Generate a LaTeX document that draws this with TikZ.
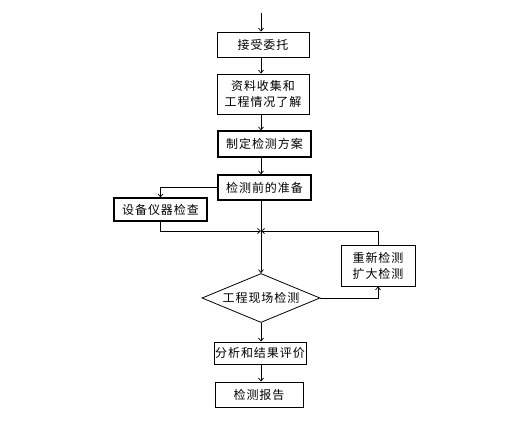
\documentclass[tikz,border=0pt]{standalone}
\usepackage{fontspec}
\newfontfamily\cjk[LetterSpace=8]{Noto Sans CJK SC}
\usetikzlibrary{shapes.geometric,arrows.meta}
\begin{document}
\begin{tikzpicture}[x=1pt,y=-1pt,
  box/.style={draw,line width=0.9pt,rectangle,inner sep=0pt,align=center,font=\cjk\fontsize{12}{16}\selectfont},
  thick box/.style={box,line width=1.3pt},
  dia/.style={draw,line width=0.8pt,diamond,aspect=2.4,inner sep=0pt,minimum width=118pt,minimum height=49pt,font=\cjk\fontsize{12}{14}\selectfont},
  flow/.style={line width=0.7pt,-{Straight Barb[length=3pt,width=5pt]}},
  plain/.style={line width=0.7pt}]
\path[use as bounding box] (0,0) rectangle (513,421);
\fill[white] (0,0) rectangle (513,421);
\coordinate (axis) at (261,0);
\coordinate (start) at (261,13);
\node[box,minimum width=92pt,minimum height=25pt] (b1) at (263,44.5) {接受委托};
\node[box,minimum width=92pt,minimum height=40pt] (b2) at (263,94) {资料收集和\\工程情况了解};
\node[thick box,minimum width=93pt,minimum height=26pt] (b3) at (264.5,144) {制定检测方案};
\node[thick box,minimum width=93pt,minimum height=25pt] (b4) at (264.5,187.5) {检测前的准备};
\node[thick box,minimum width=93pt,minimum height=23pt] (b5) at (160.5,209.5) {设备仪器检查};
\node[dia] (d) at (261,298) {工程现场检测};
\node[box,minimum width=74pt,minimum height=41pt] (r) at (378,265.5) {重新检测\\扩大检测};
\node[box,minimum width=92pt,minimum height=22pt] (b6) at (260,353) {分析和结果评价};
\node[box,minimum width=88pt,minimum height=25pt] (b7) at (259,394.5) {检测报告};
\coordinate (j) at (261,231);
\draw[flow] (start) -- (b1.north -| axis);
\draw[flow] (b1.south -| axis) -- (b2.north -| axis);
\draw[flow] (b2.south -| axis) -- (b3.north -| axis);
\draw[flow] (b3.south -| axis) -- (b4.north -| axis);
\draw[flow] (b4.west) -| (b5.north);
\draw[flow] (b4.south -| axis) -- (d.north);
\draw[flow] (b5.south) |- (j);
\draw[flow] (r.north) |- (j);
\draw[flow] (d.east) -| (r.south);
\draw[flow] (d.south) -- (b6.north -| axis);
\draw[flow] (b6.south -| axis) -- (b7.north -| axis);
\end{tikzpicture}
\end{document}
